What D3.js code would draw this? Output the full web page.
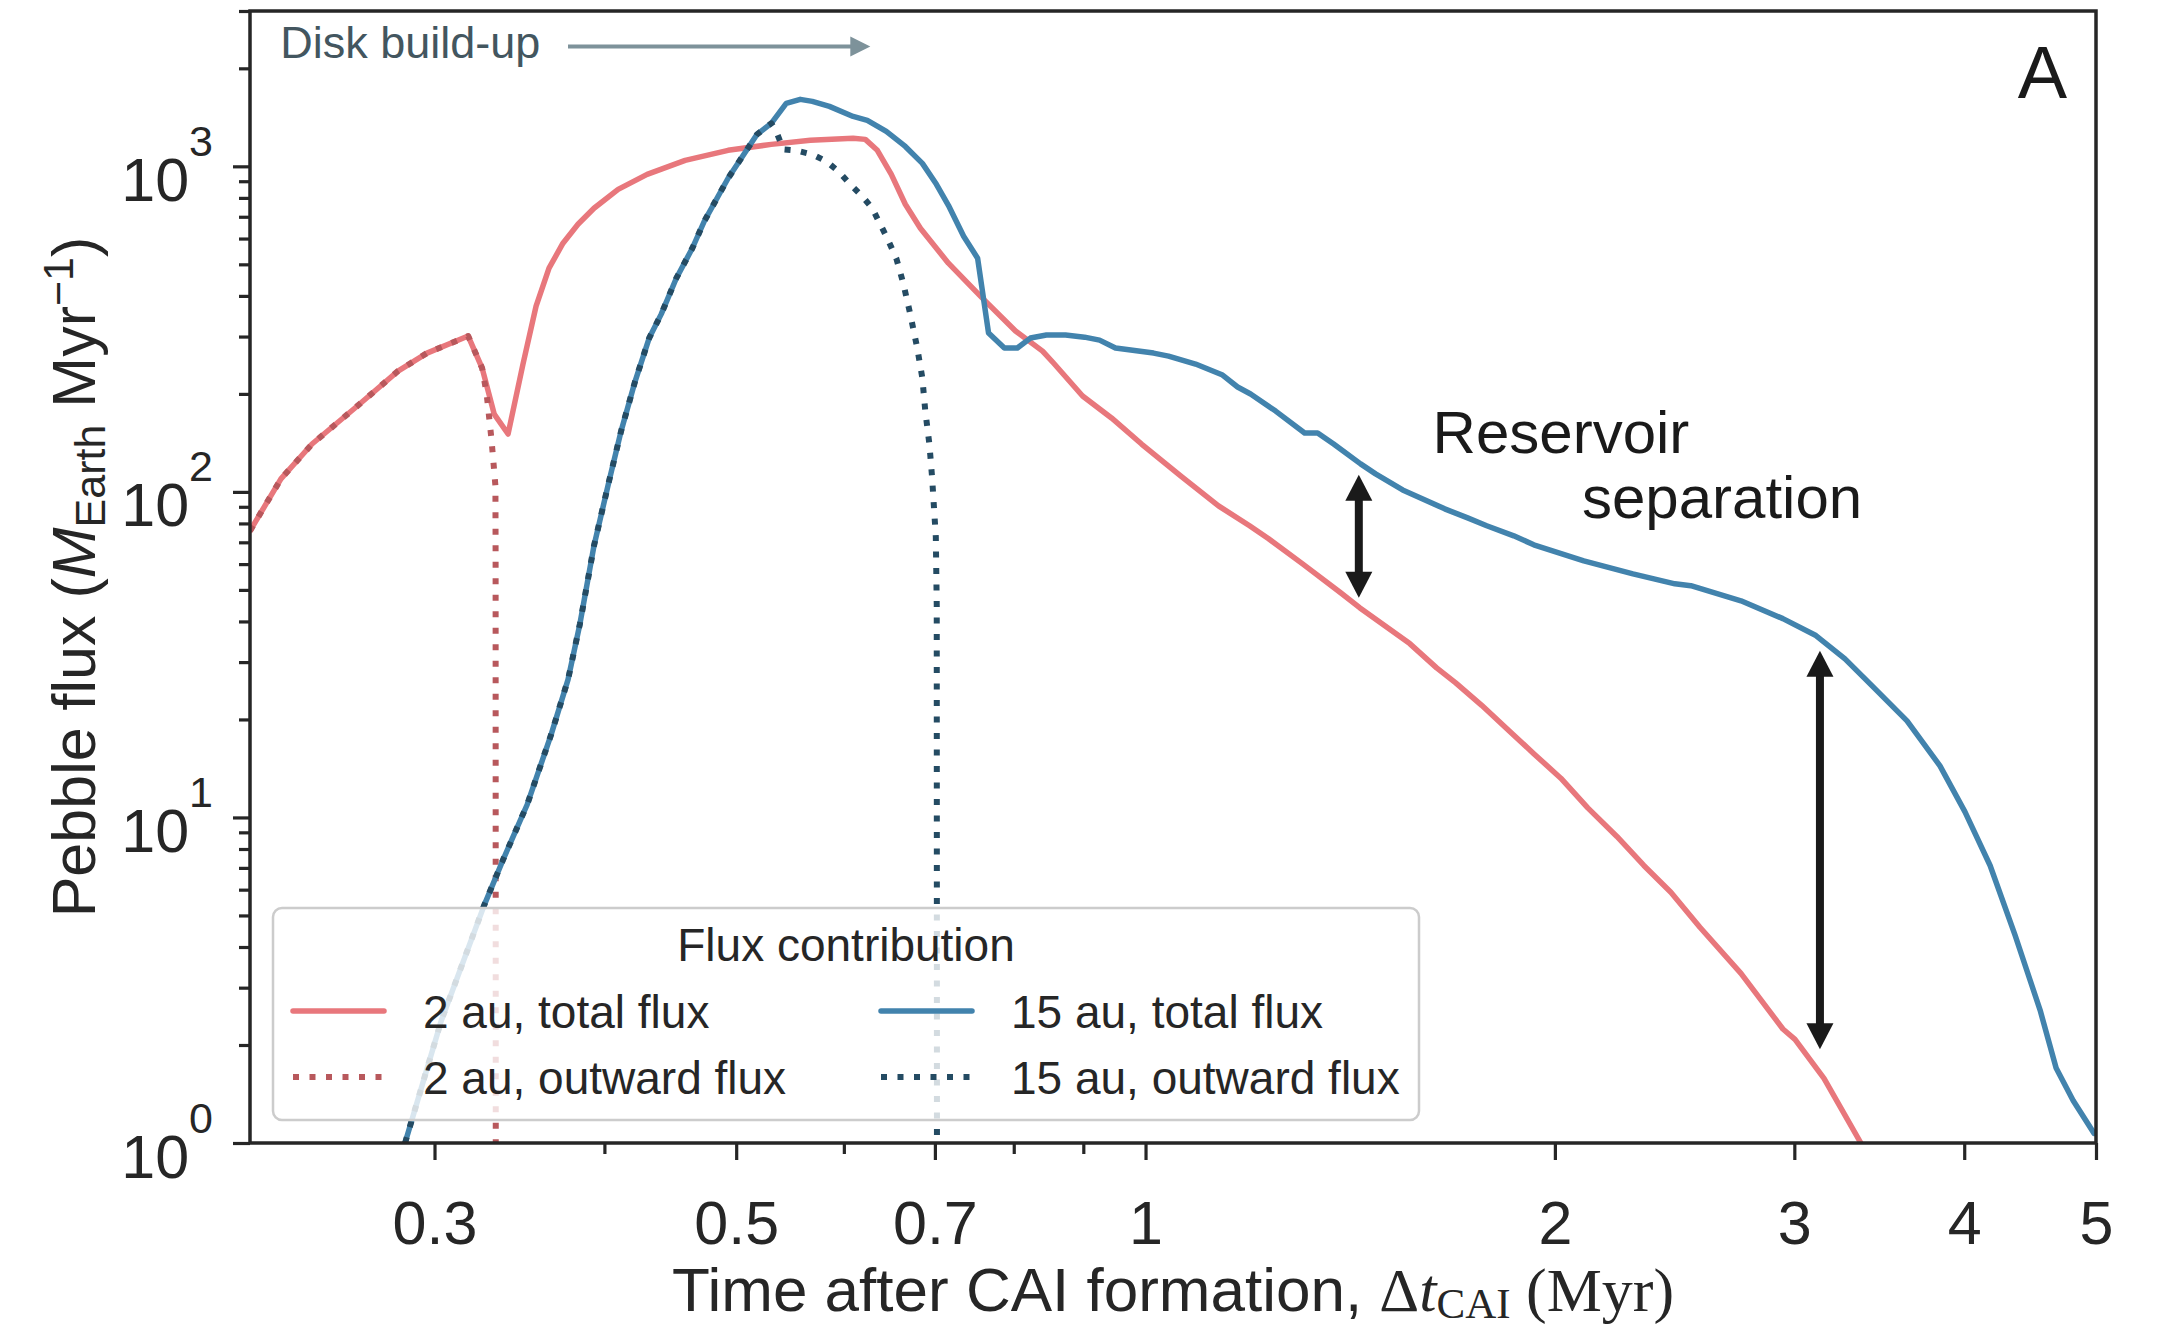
<!DOCTYPE html>
<meta charset="utf-8">
<style>
body{margin:0;background:#fff;}
svg{display:block;font-family:"Liberation Sans",Arial,sans-serif;}
.axis text{fill:#262626;font-family:"Liberation Sans",Arial,sans-serif;}
.axis line{stroke:#262626;stroke-width:3.2;}
.axis path{display:none;}
.flux{fill:none;stroke-linejoin:round;}
.serif{font-family:"Liberation Serif","Times New Roman",serif;}
</style>
<body>
<script src="https://d3js.org/d3.v7.min.js"></script>
<script>

// ticks
var xTicks=[0.3,0.5,0.7,1,2,3,4,5];
var xMinor=[0.4,0.6,0.8,0.9];
var yTicks=[1,10,100,1000];
var yMinor=[2,3,4,5,6,7,8,9,20,30,40,50,60,70,80,90,200,300,400,500,600,700,800,900,2000,3000];

// [time after CAI (Myr), pebble flux (M_Earth / Myr)]
var total2au=[
  [0.2195,75.9],[0.2313,109.6],[0.2438,140.3],[0.2622,181],[0.2820,235],[0.2962,266.9],[0.3176,301.1],
  [0.3252,239.9],[0.3319,173.4],[0.3398,150.6],[0.3485,247],[0.3563,372.1],[0.3642,486.6],[0.3729,580.6],
  [0.3825,663.8],[0.3930,743.4],[0.4094,849.6],[0.4300,944.8],[0.4586,1043],[0.4932,1120],[0.5306,1168],
  [0.5669,1202],[0.6095,1219],[0.6222,1210],[0.6350,1120],[0.6502,944.8],[0.6658,764.6],[0.6830,645.4],
  [0.7162,504],[0.7586,393.7],[0.8024,311.9],[0.8400,270.7],[0.8557,248.8],[0.8989,197],[0.9440,168.7],
  [0.9933,140.3],[1.0612,111.9],[1.1315,90.6],[1.1926,78.7],[1.2317,71.8],[1.3047,60.1],[1.3915,49],
  [1.4370,44.1],[1.5642,34.2],[1.6371,28.8],[1.6908,25.9],[1.7669,22.1],[1.8497,18.5],[1.9298,15.7],
  [2.0202,13.2],[2.1145,10.7],[2.2214,8.74],[2.3251,7.12],[2.4339,5.89],[2.5567,4.6],[2.7407,3.32],
  [2.9424,2.24],[3.0033,2.08],[3.1545,1.58],[3.3578,1.0]
];
var outward2au=[
  [0.2195,75.9],[0.2313,109.6],[0.2438,140.3],[0.2622,181],[0.2820,235],[0.2962,266.9],[0.3176,301.1],
  [0.3252,239.9],[0.3277,199.8],[0.3303,146.5],[0.3319,116],[0.3326,104.3],[0.3327,61.9],[0.3328,0.5]
];
var total15au=[
  [0.2854,1.0],[0.3034,2.37],[0.3263,5.37],[0.3370,7.43],[0.3510,10.96],[0.3655,17.97],[0.3761,26.5],
  [0.3838,39.4],[0.3930,68.3],[0.4032,108.1],[0.4115,153.9],[0.4214,219],[0.4315,296.8],[0.4404,351.6],
  [0.4518,453.3],[0.4642,560.2],[0.4737,678.1],[0.4932,918.9],[0.5180,1254],[0.5306,1355],[0.5442,1560],
  [0.5573,1606],[0.5688,1583],[0.5855,1528],[0.6095,1423],[0.6243,1384],[0.6447,1280],[0.6658,1151],
  [0.6853,1021],[0.7018,880.6],[0.7162,759.2],[0.7349,610],[0.7525,522.2],[0.7666,307.5],[0.7874,276.6],
  [0.8049,276.6],[0.8229,296.8],[0.8456,303.2],[0.8733,303.2],[0.9019,298.7],[0.9251,292.6],[0.9504,276.6],
  [1.0137,266.9],[1.0397,261.3],[1.0884,247],[1.1394,228.5],[1.1687,210],[1.1947,199.8],[1.2465,177.1],
  [1.3092,151.7],[1.3384,151.7],[1.3751,140.3],[1.4393,121.9],[1.4763,113.6],[1.5455,101.4],[1.6596,88.7],
  [1.7253,83.2],[1.7820,78.7],[1.8655,73.3],[1.9298,68.8],[2.1004,61.4],[2.2827,56],[2.4507,52.2],
  [2.5177,51.5],[2.7407,46.3],[2.9424,40.8],[3.1117,36.2],[3.2687,30.7],[3.4340,25],[3.6308,19.8],
  [3.8391,14.4],[4.0051,10.4],[4.1792,7.12],[4.3595,4.35],[4.5484,2.56],[4.6735,1.70],[4.8100,1.35],
  [4.9840,1.07]
];
var outward15au=[
  [0.2854,1.0],[0.3034,2.37],[0.3263,5.37],[0.3370,7.43],[0.3510,10.96],[0.3655,17.97],[0.3761,26.5],
  [0.3838,39.4],[0.3930,68.3],[0.4032,108.1],[0.4115,153.9],[0.4214,219],[0.4315,296.8],[0.4404,351.6],
  [0.4518,453.3],[0.4642,560.2],[0.4737,678.1],[0.4932,918.9],[0.5180,1254],[0.5306,1355],[0.5351,1280],
  [0.5415,1128],[0.5527,1120],[0.5688,1088],[0.5825,1036],[0.5944,965.6],[0.6065,880.6],[0.6190,809.1],
  [0.6295,743.4],[0.6447,610],[0.6557,522.2],[0.6635,437.5],[0.6714,351.6],[0.6794,276.6],[0.6853,223.7],
  [0.6887,177.1],[0.6935,140.3],[0.6966,111.6],[0.7011,72.8],[0.7022,44.7],[0.7025,0.5]
];
var legendLabels=["2 au, total flux","15 au, total flux","2 au, outward flux","15 au, outward flux"];
// separation arrows: [time, upper flux, lower flux]
var separation=[[1.435,112.8,47.3],[3.133,32.5,1.94]];

var W=2166,H=1330,pL=250,pR=2096,pT=11,pB=1143;

var svg=d3.select("body").append("svg").attr("width",W).attr("height",H);
var x=d3.scaleLog().domain([0.2195,5]).range([pL,pR]);
var y=d3.scaleLog().domain([1,3000]).range([pB,pT]);

svg.append("clipPath").attr("id","plot").append("rect")
  .attr("x",pL).attr("y",pT).attr("width",pR-pL).attr("height",pB-pT);

var line=d3.line().x(d=>x(d[0])).y(d=>y(d[1]));

var series=[
  {data:total2au,color:"#e8777c",w:5.5,dash:null},
  {data:outward2au,color:"#b8585c",w:6,dash:"6,10.5"},
  {data:total15au,color:"#4283ad",w:5.5,dash:null},
  {data:outward15au,color:"#244b63",w:6,dash:"6,10.5"}
];

var plot=svg.append("g").attr("clip-path","url(#plot)");
series.forEach(function(s){
  plot.append("path").datum(s.data).attr("class","flux").attr("d",line)
    .attr("stroke",s.color).attr("stroke-width",s.w)
    .attr("stroke-dasharray",s.dash)
    .attr("stroke-linecap",s.dash?"butt":"round");
});

// axes
var fmt=d3.format("~g");
var xAxis=svg.append("g").attr("class","axis").attr("transform","translate(0,"+pB+")")
  .call(d3.axisBottom(x).tickValues(xTicks).tickSize(17).tickFormat(fmt));
xAxis.selectAll("text").attr("y",101).attr("dy",null).style("font-size","61px");
svg.append("g").attr("class","axis").attr("transform","translate(0,"+pB+")")
  .call(d3.axisBottom(x).tickValues(xMinor).tickSize(11).tickFormat(""));

var yAxis=svg.append("g").attr("class","axis").attr("transform","translate("+pL+",0)")
  .call(d3.axisLeft(y).tickValues(yTicks).tickSize(17).tickFormat(""));
yAxis.selectAll(".tick text").each(function(d){
  var t=d3.select(this).attr("x",-37).attr("y",34).attr("dy",null)
    .attr("text-anchor","end").style("font-size","61px");
  t.append("tspan").text("10");
  t.append("tspan").attr("dy",-45).style("font-size","43px").text(Math.round(Math.log10(d)));
});
svg.append("g").attr("class","axis").attr("transform","translate("+pL+",0)")
  .call(d3.axisLeft(y).tickValues(yMinor).tickSize(11).tickFormat(""));

svg.append("rect").attr("x",pL).attr("y",pT).attr("width",pR-pL).attr("height",pB-pT)
  .attr("fill","none").attr("stroke","#262626").attr("stroke-width",3.5);

// axis labels
var xl=svg.append("text").attr("x",(pL+pR)/2).attr("y",1311).attr("text-anchor","middle")
  .style("font-size","62px").attr("fill","#262626");
xl.append("tspan").text("Time after CAI formation, ");
xl.append("tspan").attr("class","serif").text("\u0394");
xl.append("tspan").attr("class","serif").style("font-style","italic").text("t");
xl.append("tspan").attr("class","serif").attr("dy",7).style("font-size","43px").text("CAI");
xl.append("tspan").attr("class","serif").attr("dy",-7).text(" (Myr)");

var yl=svg.append("text").attr("transform","translate(95,"+((pT+pB)/2)+") rotate(-90)")
  .attr("text-anchor","middle").style("font-size","61px").attr("fill","#262626");
yl.append("tspan").text("Pebble flux (");
yl.append("tspan").style("font-style","italic").text("M");
yl.append("tspan").attr("dy",10).style("font-size","43px").text("Earth");
yl.append("tspan").attr("dy",-10).text(" Myr");
yl.append("tspan").attr("dy",-22).style("font-size","43px").text("\u22121");
yl.append("tspan").attr("dy",22).text(")");

// annotations
var ann=svg.append("g");
ann.append("text").attr("x",x(0.231)).attr("y",y(2145)).style("font-size","45px")
  .attr("fill","#43565f").text("Disk build-up");
var ay=y(2334),ax0=x(0.3761),ax1=x(0.6275);
ann.append("line").attr("x1",ax0).attr("x2",ax1-18).attr("y1",ay).attr("y2",ay)
  .attr("stroke","#7d929a").attr("stroke-width",4);
ann.append("path").attr("d","M"+ax1+","+ay+"L"+(ax1-20)+","+(ay-10)+"L"+(ax1-20)+","+(ay+10)+"Z")
  .attr("fill","#7d929a");

separation.forEach(function(s){
  var X=x(s[0]),Y0=y(s[1]),Y1=y(s[2]);
  ann.append("line").attr("x1",X).attr("x2",X).attr("y1",Y0+22).attr("y2",Y1-22)
    .attr("stroke","#1a1a1a").attr("stroke-width",8);
  ann.append("path").attr("d","M"+X+","+Y0+"L"+(X-13.5)+","+(Y0+26)+"L"+(X+13.5)+","+(Y0+26)+"Z").attr("fill","#1a1a1a");
  ann.append("path").attr("d","M"+X+","+Y1+"L"+(X-13.5)+","+(Y1-26)+"L"+(X+13.5)+","+(Y1-26)+"Z").attr("fill","#1a1a1a");
});
ann.append("text").attr("x",x(1.626)).attr("y",y(131.7)).style("font-size","60px").attr("fill","#1a1a1a").text("Reservoir");
ann.append("text").attr("x",x(2.094)).attr("y",y(83.2)).style("font-size","60px").attr("fill","#1a1a1a").text("separation");
ann.append("text").attr("x",pR-29).attr("y",pT+87).attr("text-anchor","end")
  .style("font-size","74px").attr("fill","#1a1a1a").text("A");

// legend
var lg=svg.append("g");
lg.append("rect").attr("x",273).attr("y",908).attr("width",1146).attr("height",212).attr("rx",9)
  .attr("fill","#fff").attr("fill-opacity",0.8).attr("stroke","#cccccc").attr("stroke-width",2.5);
lg.append("text").attr("x",846).attr("y",961).attr("text-anchor","middle")
  .style("font-size","46px").attr("fill","#262626").text("Flux contribution");
var order=[0,2,1,3];
legendLabels.forEach(function(lab,i){
  var s=series[order[i]],col=i%2,row=Math.floor(i/2);
  var hx=col?881:293,ly=1011+row*66;
  lg.append("line").attr("x1",hx).attr("x2",hx+91).attr("y1",ly).attr("y2",ly)
    .attr("stroke",s.color).attr("stroke-width",s.w).attr("stroke-dasharray",s.dash)
    .attr("stroke-linecap",s.dash?"butt":"round");
  lg.append("text").attr("x",col?1011:423).attr("y",ly+17).style("font-size","46px")
    .attr("fill","#262626").text(lab);
});
</script>
</body>
</html>
